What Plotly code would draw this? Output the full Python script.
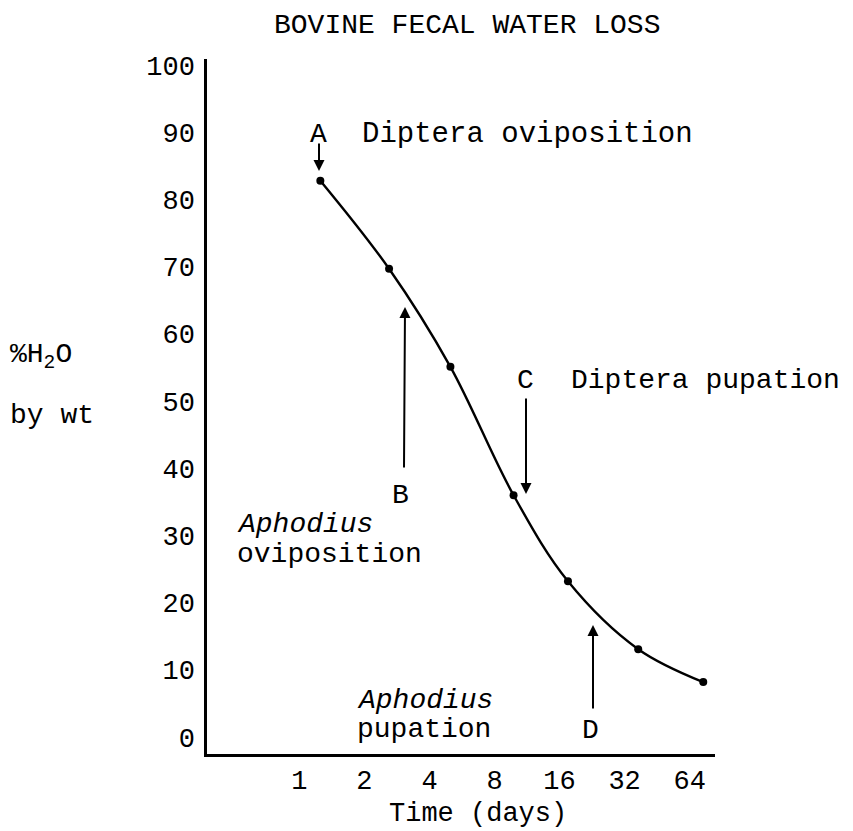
import math
import plotly.graph_objects as go

# ---- data ----
days = [1.25, 2.6, 5.0, 9.8, 17.5, 37, 74]
water_pct = [82.8, 69.7, 55.1, 36.0, 23.2, 13.1, 8.2]
x_ticks = [1, 2, 4, 8, 16, 32, 64]
x_tick_labels = ["1", "2", "4", "8", "16", "32", "64"]
y_ticks = [0, 10, 20, 30, 40, 50, 60, 70, 80, 90, 100]

FONT = "Liberation Mono, Courier New, monospace"

W, H = 853, 831
SHIFT = 3  # plot moved up slightly to leave room for the x-axis title
L, R, T, B = 207, 138, 62 - SHIFT, 74 + SHIFT
PW, PH = W - L - R, H - T - B


def px(xp, yp, shift=True):
    """pixel position (as read on the reference) -> paper coordinates"""
    if shift:
        yp = yp - SHIFT
    return (xp - L) / PW, (H - B - yp) / PH


fig = go.Figure()
fig.add_trace(go.Scatter(
    x=days, y=water_pct, mode="lines+markers",
    line=dict(color="black", width=2.4, shape="spline", smoothing=1.0),
    marker=dict(color="black", size=8),
    showlegend=False, hoverinfo="skip",
))

annotations = []


def text(t, xp, yp, size=28, xanchor="center", yanchor="middle", shift=True):
    x, y = px(xp, yp, shift)
    annotations.append(dict(text=t, x=x, y=y, xref="paper", yref="paper",
                            showarrow=False, xanchor=xanchor, yanchor=yanchor,
                            font=dict(family=FONT, size=size, color="black")))


def arrow(tail, tip):
    x, y = px(*tip)
    annotations.append(dict(text="", x=x, y=y, xref="paper", yref="paper",
                            ax=tail[0] - tip[0], ay=tail[1] - tip[1],
                            showarrow=True, arrowhead=2, arrowsize=1.1,
                            arrowwidth=2, arrowcolor="black"))


text("BOVINE FECAL WATER LOSS", 467, 26, shift=False)
text("Time (days)", 478, 831, size=27, yanchor="bottom", shift=False)
text("%H<sub>2</sub>O", 8, 360, xanchor="left")
text("by wt", 8, 418, xanchor="left")

text("A", 318, 137)
arrow((319, 145), (319, 174))
text("Diptera oviposition", 360, 137, size=29, xanchor="left")

text("B", 400, 498)
arrow((404, 472), (405, 310))

text("C", 525, 383)
arrow((526, 400), (526, 497))
text("Diptera pupation", 569, 383, xanchor="left")

text("D", 590, 733)
arrow((593, 713), (593, 628))

text("<i>Aphodius</i>", 235, 527, xanchor="left")
text("oviposition", 235, 557, xanchor="left")
text("<i>Aphodius</i>", 355, 703, xanchor="left")
text("pupation", 355, 732, xanchor="left")

x_lo = (207 - 299.4) / 65.04 * math.log10(2)
x_hi = (715 - 299.4) / 65.04 * math.log10(2)

fig.update_layout(
    width=W, height=H,
    margin=dict(l=L, r=R, t=T, b=B),
    paper_bgcolor="white", plot_bgcolor="white",
    font=dict(family=FONT, size=27, color="black"),
    annotations=annotations,
    xaxis=dict(type="log", range=[x_lo, x_hi], tickvals=x_ticks,
               ticktext=x_tick_labels, showgrid=False, zeroline=False,
               showline=True, linecolor="black", linewidth=2.5, ticks="",
               tickfont=dict(family=FONT, size=27)),
    yaxis=dict(range=[-2.5, 100.9], tickvals=y_ticks, showgrid=False,
               zeroline=False, showline=True, linecolor="black",
               linewidth=2.5, ticks="", ticklabelstandoff=4,
               tickfont=dict(family=FONT, size=27)),
)

fig.write_html("out.html",
               config={"displayModeBar": False},
               post_script="document.body.style.margin='0px';")
